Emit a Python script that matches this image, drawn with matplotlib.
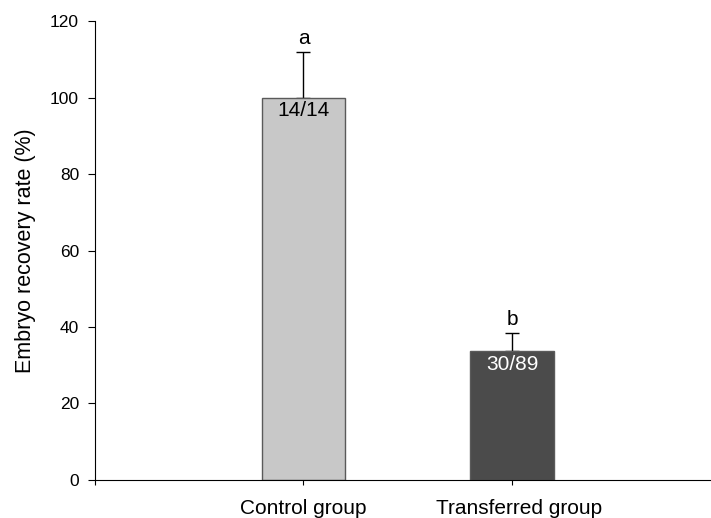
import numpy as np
import matplotlib.pyplot as plt
import matplotlib.transforms as mtransforms

groups = ['Control group', 'Transferred group']
recovery = [100.0, 33.7]
err_up = [12.0, 4.7]
counts = ['14/14', '30/89']
letters = ['a', 'b']

plt.rcParams['font.family'] = ['Liberation Sans', 'DejaVu Sans']

fig = plt.figure(figsize=(7.11, 5.18), dpi=100)
ax = fig.add_axes([0.1336, 0.0734, 0.865, 0.886])

x = np.array([1, 2])
colors = ['#c8c8c8', '#4b4b4b']
ax.bar(x, recovery, width=0.40, color=colors, edgecolor='#5a5a5a', linewidth=1.0, zorder=2)
ax.errorbar(x, recovery, yerr=[np.zeros(2), err_up], fmt='none', ecolor='black',
            elinewidth=1.0, capsize=5, capthick=1.0, zorder=1)

# counts inside bar tops, significance letters above error bars
txt_colors = ['black', 'white']
for xi, v, e, c, l, tc in zip(x, recovery, err_up, counts, letters, txt_colors):
    ax.text(xi, v - 1.0, c, ha='center', va='top', fontsize=15, color=tc, zorder=3)
    ax.text(xi, v + e + 1.0, l, ha='center', va='bottom', fontsize=15)

ax.set_xlim(0, 2.95)
ax.set_ylim(0, 120)
ax.set_yticks(np.arange(0, 121, 20))
ax.set_xticks([0, 1, 2])
ax.set_xticklabels([''] + groups, fontsize=15)
ax.tick_params(axis='x', direction='out', length=3.5, pad=10)
ax.tick_params(axis='y', direction='out', length=5, pad=6.5, labelsize=12.5)
ax.set_ylabel('Embryo recovery rate (%)', fontsize=15.5, labelpad=10)
ax.spines['top'].set_visible(False)
ax.spines['right'].set_visible(False)

# second group label sits a little right of its tick
lbl = ax.get_xticklabels()[2]
lbl.set_transform(lbl.get_transform() +
                  mtransforms.ScaledTranslation(0.07, 0, fig.dpi_scale_trans))

fig.savefig('out.png', dpi=100)
